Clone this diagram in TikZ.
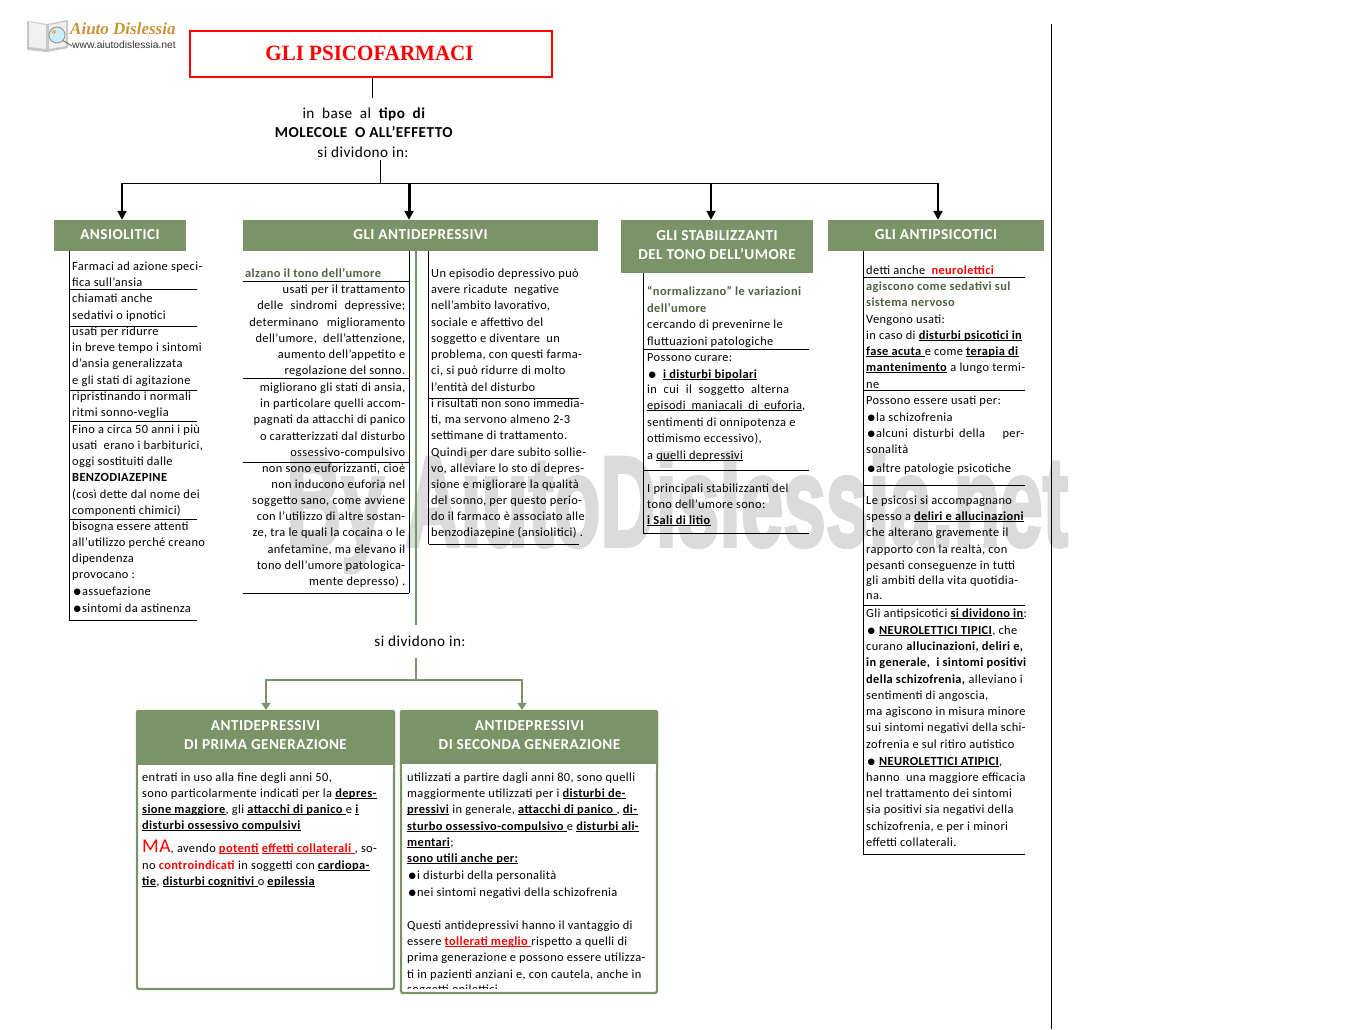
\documentclass[tikz,border=0pt]{standalone}
\usepackage{fontspec}
\usepackage{graphicx}
\usetikzlibrary{arrows.meta}
\setmainfont[LetterSpace=3]{Carlito}
\newfontfamily\titlefont{Liberation Serif}
\newfontfamily\logofont{Liberation Sans}
\newfontfamily\markfont[BoldFeatures={FakeBold=3}]{Liberation Sans}
\newfontfamily\symfont{DejaVu Sans}
\definecolor{headgreen}{HTML}{7A9468}
\definecolor{darkgreen}{HTML}{4F6240}
\definecolor{markgrey}{HTML}{DBDBDB}
\newcommand{\subl}[1]{\underline{\smash{#1}}}
\newcommand{\ub}[1]{\subl{\textbf{#1}}}
\newcommand{\rb}[1]{\textcolor{red}{\textbf{#1}}}
\newcommand{\jl}[2]{\makebox[#1pt][s]{#2}}
\newcommand{\blt}{\hspace{1.5pt}\raisebox{0.8pt}{\symfont\fontsize{8.5}{9}\selectfont ●}\hspace{1pt}}
\begin{document}
\begin{tikzpicture}[x=1pt,y=-1pt,
  txt/.style={anchor=base west,inner sep=0pt,font=\fontsize{12.4}{14}\selectfont},
  txtr/.style={txt,anchor=base east},
  mid/.style={anchor=base,inner sep=0pt,font=\fontsize{15.2}{16}\selectfont},
  head/.style={fill=headgreen,text=white,inner sep=0pt,align=center,font=\fontsize{15.2}{19}\selectfont\bfseries},
  arr/.style={line width=#1,-{Triangle[length=9pt,width=9pt]}},
  garr/.style={headgreen,line width=2.6pt,-{Triangle[length=7pt,width=9pt]}},
  gline/.style={headgreen,line width=2.6pt},
  frame/.style={draw=headgreen,line width=2.2pt,rounded corners=2pt,inner sep=0pt}]
\useasboundingbox (0,0) rectangle (1350,1029);
% watermark
\node[anchor=base west,inner sep=0pt,text=markgrey] (mark) at (286,546)
  {\resizebox{782pt}{93pt}{\markfont\bfseries By AiutoDislessia.net}};
% logo
\fill[gray!45] (27,21) -- (47,24) -- (68,20) -- (68,48) -- (47,52) -- (27,50) -- cycle;
\fill[gray!12] (29,22) -- (46,25) -- (46,49) -- (29,47) -- cycle;
\fill[gray!12] (49,25) -- (66,22) -- (66,46) -- (49,49) -- cycle;
\draw[gray,line width=1.2pt] (62,40) -- (72,46);
\draw[gray!80,fill=cyan!20,line width=1pt] (57,35) circle (8);
\fill[orange!70] (54,32) circle (2);
\node[anchor=base west,inner sep=0pt,text=brown!85!yellow] (logoname) at (70,34)
  {\titlefont\bfseries\itshape\fontsize{17}{18}\selectfont Aiuto Dislessia};
\node[anchor=base west,inner sep=0pt,text=black!80] (logourl) at (72,48)
  {\logofont\fontsize{10.3}{11}\selectfont www.aiutodislessia.net};
% top
\node[draw=red,line width=2pt,minimum width=362pt,minimum height=46pt,inner sep=0pt] (title) at (371,54) {};
\node[anchor=base,inner sep=0pt,text=red] (titletext) at (369.5,60)
  {\titlefont\bfseries\fontsize{21.8}{26}\selectfont\scalebox{.965}[1]{GLI PSICOFARMACI}};
\node[mid] (base1) at (364,118) {\jl{123}{in \ base \ al \ \textbf{tipo \ di}}};
\node[mid] (base2) at (364,137) {\textbf{MOLECOLE \ O ALL’EFFETTO}};
\node[mid] (base3) at (363,157) {si dividono in:};
\coordinate (c1) at (372,98);
\coordinate (c2) at (380,160);
\coordinate (bus) at (380,183);
\coordinate (b1) at (122,183);
\coordinate (b2) at (409,183);
\coordinate (b3) at (711,183);
\coordinate (b4) at (938,183);
\draw[line width=1pt] (title.south -| c1) -- (c1);
\draw[line width=1pt] (c2) -- (bus);
% heads
\node[head,minimum width=132pt,minimum height=31pt] (ansio) at (120,235.5) {\raisebox{1pt}{ANSIOLITICI}};
\node[head,minimum width=355pt,minimum height=31pt] (anti) at (420.5,235.5) {\raisebox{1pt}{GLI ANTIDEPRESSIVI}};
\node[head,minimum width=192pt,minimum height=53pt] (stab) at (717,246.5) {\raisebox{3pt}{GLI STABILIZZANTI}\\\raisebox{3pt}{DEL TONO DELL’UMORE}};
\node[head,minimum width=216pt,minimum height=31pt] (psic) at (936,235.5) {\raisebox{1pt}{GLI ANTIPSICOTICI}};
\draw[line width=1pt] (b1) -- (b4);
\draw[arr=2pt] (b1) -- (b1 |- ansio.north);
\draw[arr=3pt] (b2) -- (b2 |- anti.north);
\draw[arr=2pt] (b3) -- (b3 |- stab.north);
\draw[arr=2.4pt] (b4) -- (b4 |- psic.north);
% ansiolitici
\draw (69,251) -- (69,620);
\foreach \y in {289,326,390,421,519,620} \draw (69,\y) -- (197,\y);
\foreach \y/\t in {270/{Farmaci ad azione speci-},286/{fica sull’ansia},302/{chiamati anche},319/{sedativi o ipnotici},
  335/{usati per ridurre},351/{in breve tempo i sintomi},367/{d’ansia generalizzata},384.5/{e gli stati di agitazione},
  400/{ripristinando i normali},416/{ritmi sonno-veglia},433/{Fino a circa 50 anni i più},449/{usati \ erano i barbiturici,},
  465/{oggi sostituiti dalle},481/{\textbf{BENZODIAZEPINE}},498/{(così dette dal nome dei},514/{componenti chimici)},
  530/{bisogna essere attenti},546/{all’utilizzo perché creano},562/{dipendenza},578/{provocano :},
  595/{\blt assuefazione},612/{\blt sintomi da astinenza}}
  \node[txt] (ansio\y) at (72,\y) {\t};
% antidepressivi, left
\draw (409,251) -- (409,593);
\foreach \y in {281,378,462,593} \draw (243,\y) -- (409,\y);
\node[txt,text=darkgreen] (alza) at (245,277) {\textbf{alzano il tono dell’umore}};
\foreach \y/\t in {293/{usati per il trattamento},309/{\jl{148}{delle sindromi depressive;}},326/{\jl{156}{determinano miglioramento}},
  342/{dell’umore, \ dell’attenzione,},358/{aumento dell’appetito e},374/{regolazione del sonno.},
  391/{migliorano gli stati di ansia,},407/{in particolare quelli accom-},423/{pagnati da attacchi di panico},
  440/{o caratterizzati dal disturbo},456/{ossessivo-compulsivo},472/{non sono euforizzanti, cioè},
  488/{non inducono euforia nel},504/{soggetto sano, come avviene},520/{con l’utilizzo di altre sostan-},
  536/{ze, tra le quali la cocaina o le},553/{anfetamine, ma elevano il},569/{tono dell’umore patologica-},585/{mente depresso) .}}
  \node[txtr] (antl\y) at (405.5,\y) {\t};
% antidepressivi, right
\draw (428.5,251) -- (428.5,544);
\foreach \y in {398,544} \draw (428.5,\y) -- (579,\y);
\foreach \y/\t in {277/{Un episodio depressivo può},293/{avere ricadute \ negative},309/{nell’ambito lavorativo,},
  326/{sociale e affettivo del},342/{soggetto e diventare \ un},358/{problema, con questi farma-},374/{ci, si può ridurre di molto},
  391/{l’entità del disturbo},407/{i risultati non sono immedia-},423/{ti, ma servono almeno 2-3},439/{settimane di trattamento.},
  456/{Quindi per dare subito sollie-},472/{vo, alleviare lo sto di depres-},488/{sione e migliorare la qualità},
  504/{del sonno, per questo perio-},520/{do il farmaco è associato alle},536/{benzodiazepine (ansiolitici) .}}
  \node[txt] (antr\y) at (431,\y) {\t};
% stabilizzanti
\draw (643.5,273) -- (643.5,534);
\foreach \y in {349,470,533.5} \draw (643.5,\y) -- (809,\y);
\foreach \y/\t in {295/{\textcolor{darkgreen}{\textbf{“normalizzano” le variazioni}}},312/{\textcolor{darkgreen}{\textbf{dell’umore}}},
  328/{cercando di prevenirne le},345/{fluttuazioni patologiche},361/{Possono curare:},
  378/{\blt\hspace{6pt}\ub{i disturbi bipolari}},393/{\jl{142}{in cui il soggetto alterna}},
  409/{\subl{\jl{155}{episodi maniacali di euforia}},},426/{sentimenti di onnipotenza e},442/{ottimismo eccessivo),},
  459/{a \subl{quelli depressivi}},492/{I principali stabilizzanti del},508/{tono dell’umore sono:},524/{\ub{i Sali di litio}}}
  \node[txt] (stab\y) at (647,\y) {\t};
% antipsicotici
\draw (863,251) -- (863,855);
\foreach \y in {277,390,485,605,854.5} \draw (863,\y) -- (1025,\y);
\foreach \y/\t in {274/{detti anche \ \rb{neurolettici}},290/{\textcolor{darkgreen}{\textbf{agiscono come sedativi sul}}},
  306/{\textcolor{darkgreen}{\textbf{sistema nervoso}}},323/{Vengono usati:},339/{in caso di \ub{disturbi psicotici in}},
  355/{\ub{fase acuta\ }e come \ub{terapia di}},371/{\ub{mantenimento} a lungo termi-},388/{ne},404/{Possono essere usati per:},
  421/{\blt la schizofrenia},437/{\jl{158}{\blt alcuni disturbi della \quad per-}},453/{sonalità},472/{\blt altre patologie psicotiche},
  504/{Le psicosi si accompagnano},520/{spesso a \ub{deliri e allucinazioni}},536/{che alterano gravemente il},
  553/{rapporto con la realtà, con},569/{pesanti conseguenze in tutti},584/{gli ambiti della vita quotidia-},599/{na.},
  617/{Gli antipsicotici \ub{si dividono in}:},634/{\blt\hspace{3pt}\ub{NEUROLETTICI TIPICI}, che},
  650/{curano \textbf{allucinazioni, deliri e,}},666/{\textbf{in generale, \ i sintomi positivi}},683/{\textbf{della schizofrenia,} alleviano i},
  699/{sentimenti di angoscia,},715/{ma agiscono in misura minore},731/{sui sintomi negativi della schi-},748/{zofrenia e sul ritiro autistico},
  765/{\blt\hspace{3pt}\ub{NEUROLETTICI ATIPICI},},781/{hanno \ una maggiore efficacia},797/{nel trattamento dei sintomi},
  813/{sia positivi sia negativi della},830/{schizofrenia, e per i minori},846/{effetti collaterali.}}
  \node[txt] (psic\y) at (866,\y) {\t};
% lower branch
\coordinate (g1) at (416,625);
\coordinate (g2) at (416,658);
\coordinate (g3) at (416,680);
\coordinate (g4) at (266,680);
\coordinate (g5) at (522,680);
\node[mid] (divid) at (420,646) {si dividono in:};
\node[frame,minimum width=257pt,minimum height=278pt] (primabox) at (265.5,850) {};
\node[frame,minimum width=256pt,minimum height=282pt] (secbox) at (529,852) {};
\fill[headgreen,rounded corners=2pt] (136,710) rectangle (395,770);
\fill[white] (138,765) rectangle (393,771);
\fill[headgreen,rounded corners=2pt] (400,710) rectangle (658,770);
\fill[white] (402,764) rectangle (656,771);
\node[head] (prima) at (265.5,735) {ANTIDEPRESSIVI\\DI PRIMA GENERAZIONE};
\node[head] (sec) at (529.5,735) {ANTIDEPRESSIVI\\DI SECONDA GENERAZIONE};
\draw[gline] (anti.south -| g1) -- (g1);
\draw[gline] (g2) -- (g3);
\draw[gline,line cap=rect] (g4) -- (g5);
\draw[garr] (g4) -- (g4 |- primabox.north);
\draw[garr] (g5) -- (g5 |- secbox.north);
% first generation
\foreach \y/\t in {781/{entrati in uso alla fine degli anni 50,},797/{sono particolarmente indicati per la \ub{depres-}},
  813/{\ub{sione maggiore}, gli \ub{attacchi di panico\ }e \ub{i}},829/{\ub{disturbi ossessivo compulsivi}},
  852/{{\textcolor{red}{\fontsize{19.5}{20}\selectfont MA}}, avendo \textcolor{red}{\ub{potenti} \ub{effetti collaterali\ }}, so-},
  869/{no \rb{controindicati} in soggetti con \ub{cardiopa-}},885/{\ub{tie}, \ub{disturbi cognitivi\ }o \ub{epilessia}}}
  \node[txt] (prim\y) at (142,\y) {\t};
% second generation
\foreach \y/\t in {781/{utilizzati a partire dagli anni 80, sono quelli},797/{maggiormente utilizzati per i \ub{disturbi de-}},
  813/{\ub{pressivi} in generale, \ub{attacchi di panico\ }, \ub{di-}},830/{\ub{sturbo ossessivo-compulsivo\ }e \ub{disturbi ali-}},
  846/{\ub{mentari};},862/{\ub{sono utili anche per:}},879/{\blt i disturbi della personalità},896/{\blt nei sintomi negativi della schizofrenia},
  929/{Questi antidepressivi hanno il vantaggio di},945/{essere \textcolor{red}{\ub{tollerati meglio\ }}rispetto a quelli di},
  961/{prima generazione e possono essere utilizza-},978/{ti in pazienti anziani e, con cautela, anche in}}
  \node[txt] (seco\y) at (407,\y) {\t};
\begin{scope}
\clip (402,980) rectangle (656,988.5);
\node[txt] (seco993) at (407,993) {soggetti epilettici};
\end{scope}
% page rule
\coordinate (r1) at (1051.5,24);
\coordinate (r2) at (1051.5,1029);
\draw (r1) -- (r2);
\end{tikzpicture}
\end{document}
